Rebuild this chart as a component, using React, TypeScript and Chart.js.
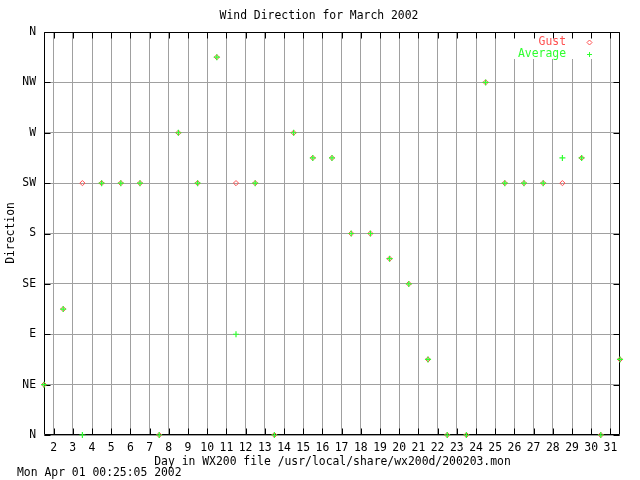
import React, { useEffect, useRef } from 'react';
import { Chart, registerables } from 'chart.js';

Chart.register(...registerables);

// ---- data ----
const days = [1, 2, 3, 4, 5, 6, 7, 8, 9, 10, 11, 12, 13, 14, 15, 16, 17, 18, 19, 20, 21, 22, 23, 24, 25, 26, 27, 28, 29, 30, 31];
const gust = [45, 112.5, 225, 225, 225, 225, 0, 270, 225, 337.5, 225, 225, 0, 270, 247.5, 247.5, 180, 180, 157.5, 135, 67.5, 0, 0, 315, 225, 225, 225, 225, 247.5, 0, 67.5];
const average = [45, 112.5, 0, 225, 225, 225, 0, 270, 225, 337.5, 90, 225, 0, 270, 247.5, 247.5, 180, 180, 157.5, 135, 67.5, 0, 0, 315, 225, 225, 225, 247.5, 247.5, 0, 67.5];
const dayTicks = [2, 3, 4, 5, 6, 7, 8, 9, 10, 11, 12, 13, 14, 15, 16, 17, 18, 19, 20, 21, 22, 23, 24, 25, 26, 27, 28, 29, 30, 31];
const directionTicks = [0, 45, 90, 135, 180, 225, 270, 315, 360];
const directionLabels = ['N', 'NE', 'E', 'SE', 'S', 'SW', 'W', 'NW', 'N'];

const TITLE = 'Wind Direction for March 2002';
const X_TITLE = 'Day in WX200 file /usr/local/share/wx200d/200203.mon';
const Y_TITLE = 'Direction';
const STAMP = 'Mon Apr 01 00:25:05 2002';

const RED = '#ff5050';
const GREEN = '#30ff30';
const GRID = '#a0a0a0';
const FONT_FAMILY = '"DejaVu Sans Mono", "Liberation Mono", monospace';
const FS = 11.4;

function drawDiamond(ctx: CanvasRenderingContext2D, x: number, y: number, r: number) {
  ctx.beginPath();
  ctx.moveTo(x, y - r);
  ctx.lineTo(x + r, y);
  ctx.lineTo(x, y + r);
  ctx.lineTo(x - r, y);
  ctx.closePath();
  ctx.stroke();
}
function drawCross(ctx: CanvasRenderingContext2D, x: number, y: number, r: number) {
  ctx.beginPath();
  ctx.moveTo(x - r, y);
  ctx.lineTo(x + r, y);
  ctx.moveTo(x, y - r);
  ctx.lineTo(x, y + r);
  ctx.stroke();
}

const decor = {
  id: 'decor',
  beforeDatasetsDraw(chart: any) {
    const { ctx, chartArea, scales } = chart;
    ctx.save();
    // legend box (white, hides grid)
    const lx = chartArea.right - 108;
    const ly = chartArea.top + 1;
    ctx.fillStyle = '#ffffff';
    ctx.fillRect(lx, ly, 96, 26);
    ctx.font = `${FS}px ${FONT_FAMILY}`;
    ctx.textAlign = 'right';
    ctx.textBaseline = 'middle';
    ctx.fillStyle = RED;
    ctx.fillText('Gust', chartArea.right - 54, chartArea.top + 10.5);
    ctx.fillStyle = GREEN;
    ctx.fillText('Average', chartArea.right - 54, chartArea.top + 22);
    ctx.lineWidth = 1;
    ctx.strokeStyle = RED;
    drawDiamond(ctx, chartArea.right - 30.5, chartArea.top + 10.5, 2.5);
    ctx.strokeStyle = GREEN;
    drawCross(ctx, chartArea.right - 30.5, chartArea.top + 22.5, 2.5);

    // border and inward ticks
    const L = Math.round(chartArea.left) + 0.5;
    const R = Math.round(chartArea.right) - 0.5;
    const T = Math.round(chartArea.top) + 0.5;
    const B = Math.round(chartArea.bottom) - 0.5;
    ctx.strokeStyle = '#000000';
    ctx.lineWidth = 1;
    ctx.beginPath();
    ctx.rect(L, T, R - L, B - T);
    const tl = 6;
    directionTicks.forEach((v) => {
      const y = Math.round(scales.y.getPixelForValue(v)) + 0.5;
      ctx.moveTo(L, y);
      ctx.lineTo(L + tl, y);
      ctx.moveTo(R, y);
      ctx.lineTo(R - tl, y);
    });
    dayTicks.forEach((v) => {
      const x = Math.round(scales.x.getPixelForValue(v)) + 0.5;
      ctx.moveTo(x, B);
      ctx.lineTo(x, B - tl);
      ctx.moveTo(x, T);
      ctx.lineTo(x, T + tl);
    });
    ctx.stroke();
    ctx.restore();
  },
  afterDraw(chart: any) {
    const { ctx } = chart;
    ctx.save();
    ctx.fillStyle = '#000000';
    ctx.font = `${FS}px ${FONT_FAMILY}`;
    ctx.textBaseline = 'middle';
    ctx.textAlign = 'center';
    ctx.fillText(TITLE, 319, 16);
    ctx.fillText(X_TITLE, 332.5, 462.5);
    ctx.textAlign = 'left';
    ctx.fillText(STAMP, 17, 473.5);
    ctx.translate(11, 233);
    ctx.rotate(-Math.PI / 2);
    ctx.textAlign = 'center';
    ctx.fillText(Y_TITLE, 0, 0);
    ctx.restore();
  },
};

export default function App() {
  const ref = useRef<HTMLCanvasElement | null>(null);
  useEffect(() => {
    document.body.style.margin = '0';
    const canvas = ref.current;
    if (!canvas) return;
    const chart = new Chart(canvas, {
      type: 'scatter',
      data: {
        datasets: [
          {
            label: 'Gust',
            data: days.map((d, i) => ({ x: d + 0.5, y: gust[i] })),
            pointStyle: 'rectRot',
            pointRadius: 2.6,
            pointBorderColor: RED,
            pointBackgroundColor: 'rgba(0,0,0,0)',
            pointBorderWidth: 1,
            clip: false,
            order: 2,
          },
          {
            label: 'Average',
            data: days.map((d, i) => ({ x: d + 0.5, y: average[i] })),
            pointStyle: 'cross',
            pointRadius: 3,
            pointBorderColor: GREEN,
            pointBackgroundColor: GREEN,
            pointBorderWidth: 1.2,
            clip: false,
            order: 1,
          },
        ],
      },
      options: {
        animation: false,
        responsive: false,
        devicePixelRatio: 1,
        layout: { padding: { top: 32, right: 20, left: 0, bottom: 0 } },
        plugins: {
          legend: { display: false },
          title: { display: false },
          tooltip: { enabled: false },
        },
        scales: {
          x: {
            type: 'linear',
            min: 1.5,
            max: 31.5,
            afterBuildTicks: (scale: any) => {
              scale.ticks = dayTicks.map((v) => ({ value: v }));
            },
            afterFit: (scale: any) => {
              scale.height = 45;
            },
            grid: { color: GRID, lineWidth: 1, drawTicks: false },
            border: { display: false },
            ticks: {
              color: '#000000',
              padding: 6,
              maxRotation: 0,
              autoSkip: false,
              font: { family: FONT_FAMILY, size: FS },
              callback: (v: any) => String(v),
            },
          },
          y: {
            type: 'linear',
            min: 0,
            max: 360,
            afterBuildTicks: (scale: any) => {
              scale.ticks = directionTicks.map((v) => ({ value: v }));
            },
            afterFit: (scale: any) => {
              scale.width = 44;
            },
            grid: { color: GRID, lineWidth: 1, drawTicks: false },
            border: { display: false },
            ticks: {
              color: '#000000',
              padding: 8,
              autoSkip: false,
              font: { family: FONT_FAMILY, size: FS },
              callback: (v: any) => {
                const i = directionTicks.indexOf(Number(v));
                return i >= 0 ? directionLabels[i] : '';
              },
            },
          },
        },
      },
      plugins: [decor],
    } as any);
    return () => chart.destroy();
  }, []);
  return (
    <div style={{ position: 'absolute', left: 0, top: 0, width: 640, height: 480, background: '#fff' }}>
      <canvas ref={ref} width={640} height={480} style={{ display: 'block', width: 640, height: 480 }} />
    </div>
  );
}
